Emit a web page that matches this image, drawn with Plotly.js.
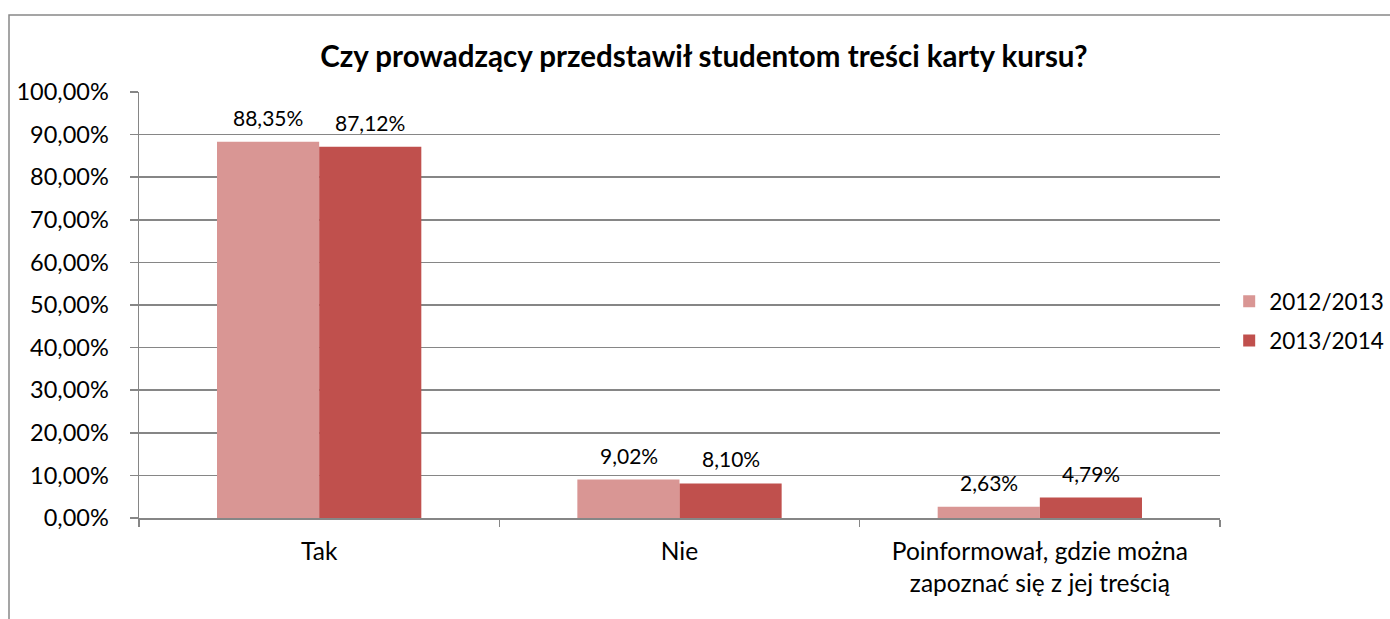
<!DOCTYPE html>
<html>
<head>
<meta charset="utf-8">
<script src="https://cdn.plot.ly/plotly-3.0.1.min.js"></script>
<style>
  html, body { margin: 0; padding: 0; background: #fff; }
  #chart { width: 1390px; height: 619px; }
</style>
</head>
<body>
<div id="chart"></div>
<script>
const categories = ['Tak', 'Nie', 'Poinformował, gdzie można<br>zapoznać się z jej treścią'];
const series1Name = '2012/2013';
const series2Name = '2013/2014';
const series1Values = [88.35, 9.02, 2.63];
const series2Values = [87.12, 8.10, 4.79];
const yTickValues = [0, 10, 20, 30, 40, 50, 60, 70, 80, 90, 100];
const chartTitle = 'Czy prowadzący przedstawił studentom treści karty kursu?';

const fmt = v => v.toFixed(2).replace('.', ',') + '%';
const FONT = 'Lato, "Open Sans", sans-serif';

const traces = [
  {
    type: 'bar', name: series1Name, x: categories, y: series1Values,
    marker: { color: '#D99694' }, legendgroup: 'a'
  },
  {
    type: 'bar', name: series2Name, x: categories, y: series2Values,
    marker: { color: '#C0504D' }, legendgroup: 'b'
  }
];

const L = 139, R = 1220, T = 92, B = 518;
const pw = R - L, ph = B - T;
const halfBar = 51;

// value labels above each bar, from the data arrays
const annotations = [];
[[series1Values, -halfBar], [series2Values, halfBar]].forEach(([vals, dx]) => {
  vals.forEach((v, i) => {
    annotations.push({
      xref: 'x', yref: 'y', x: categories[i], y: v, xshift: dx, yshift: 10,
      yanchor: 'bottom', xanchor: 'center', showarrow: false,
      text: fmt(v), font: { family: FONT, size: 21, color: '#000' }
    });
  });
});

const layout = {
  width: 1390, height: 619,
  margin: { l: L, r: 1390 - R, t: T, b: 619 - B, pad: 0, autoexpand: false },
  paper_bgcolor: '#fff', plot_bgcolor: '#fff',
  font: { family: FONT, size: 20, color: '#000' },
  title: {
    text: '<b>' + chartTitle + '</b>',
    font: { family: FONT, size: 29.5, color: '#000' },
    x: 704 / 1390, xanchor: 'center', xref: 'container',
    y: 1 - 57 / 619, yanchor: 'middle', yref: 'container'
  },
  barmode: 'group', bargap: 0.433, bargroupgap: 0,
  showlegend: true,
  legend: {
    x: 1.0085, xanchor: 'left', y: 0.4624, yanchor: 'middle',
    font: { family: FONT, size: 22.5, color: '#000' },
    bgcolor: 'rgba(0,0,0,0)', traceorder: 'grouped', tracegroupgap: 7, itemwidth: 30
  },
  xaxis: {
    type: 'category', showgrid: false, showline: true, linecolor: '#868686', linewidth: 1.5,
    ticks: 'outside', tickson: 'boundaries', ticklen: 7, tickcolor: '#868686', tickwidth: 1.5,
    ticklabelstandoff: 11,
    tickfont: { family: FONT, size: 24.5, color: '#000' }, zeroline: false, fixedrange: true
  },
  yaxis: {
    range: [0, 100], tickvals: yTickValues, ticktext: yTickValues.map(fmt),
    showgrid: true, gridcolor: '#868686', gridwidth: 1.5,
    showline: true, linecolor: '#868686', linewidth: 1.5,
    ticks: 'outside', ticklen: 8, tickcolor: '#868686', tickwidth: 1.5,
    ticklabelstandoff: 16,
    tickfont: { family: FONT, size: 23.5, color: '#000' }, zeroline: false, fixedrange: true
  },
  annotations: annotations,
  shapes: [{
    type: 'rect', xref: 'paper', yref: 'paper',
    x0: (9 - L) / pw, x1: (1400 - L) / pw,
    y0: (B - 640) / ph, y1: (B - 15) / ph,
    line: { color: '#888888', width: 1.5 }, fillcolor: 'rgba(0,0,0,0)', layer: 'below'
  }]
};

Plotly.newPlot('chart', traces, layout, { displayModeBar: false, staticPlot: true });
</script>
</body>
</html>
